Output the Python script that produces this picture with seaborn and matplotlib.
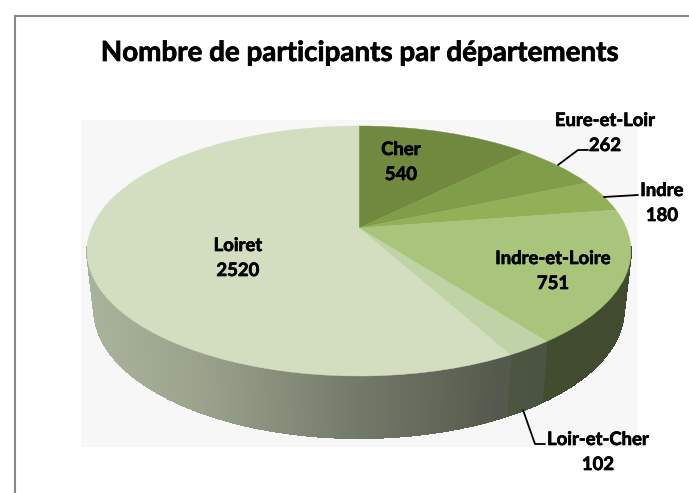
import numpy as np
import seaborn as sns
import matplotlib.pyplot as plt
import matplotlib.transforms as mtransforms
import matplotlib.patheffects as pe
from matplotlib.colors import to_rgb

# Nombre de participants par departement
departements = ['Cher', 'Eure-et-Loir', 'Indre', 'Indre-et-Loire', 'Loir-et-Cher', 'Loiret']
participants = [540, 262, 180, 751, 102, 2520]
couleurs = ['#71893f', '#809d4a', '#93b058', '#a9c47b', '#bfd3a6', '#d3dec0']
titre = 'Nombre de participants par départements'

# position des etiquettes (pixels)
etiquettes_x = [401, 605, 662, 553, 598, 238]
etiquettes_y = [162, 133, 203, 271, 452, 258]

sns.set_theme(style='white')
plt.rcParams['font.family'] = ['Lato', 'DejaVu Sans']

# geometrie de la perspective (pixels)
CX, CY = 359, 251     # centre de l'ellipse du dessus
RAYON = 267.3
RY = 125
APEX = 23             # le sommet du camembert est au-dessus du centre
K = APEX * 2 / (2 * RY)
# ellipse du dessous
CY_BAS, RX_BAS, RY_BAS = 309, 265, 129


def perspective(xy):
    u, v = xy[:, 0], xy[:, 1]
    d = 1 + K * v
    return np.column_stack([CX + RAYON * u / d, CY - (RY * v + APEX) / d])


class Perspective(mtransforms.Transform):
    input_dims = 2
    output_dims = 2
    is_separable = False
    has_inverse = False

    def transform_non_affine(self, values):
        return perspective(np.asarray(values, dtype=float))


def ombre(x):
    return np.interp(x, [90, 200, 345, 500, 630], [0.80, 0.73, 0.56, 0.40, 0.38])


fig = plt.figure(figsize=(6.89, 4.93), dpi=100)
fig.patch.set_facecolor('white')
ax = fig.add_axes([0, 0, 1, 1])

wedges, _ = ax.pie(participants, colors=sns.color_palette(couleurs), startangle=90,
                   counterclock=False, radius=1)
ax.set_aspect('auto')
ax.set_xlim(0, 689)
ax.set_ylim(493, 0)
ax.axis('off')

# fond de la zone de traçage
ax.fill([81, 637, 637, 81], [120, 120, 447, 447], color='#f7f7f7', lw=0, zorder=0)

# cote du camembert : bandes verticales assombries vers la droite
cumul = np.concatenate([[0], np.cumsum(participants)]) / sum(participants)
for i, couleur in enumerate(couleurs):
    debut, fin = np.radians(90 - cumul[i] * 360), np.radians(90 - cumul[i + 1] * 360)
    angles = np.linspace(debut, fin, max(3, int(abs(fin - debut) * 200)))
    haut = perspective(np.column_stack([np.cos(angles), np.sin(angles)]))
    bas = np.column_stack([CX + (haut[:, 0] - CX) * RX_BAS / 272,
                           CY_BAS + (haut[:, 1] - CY) * RY_BAS / RY])
    base = np.array(to_rgb(couleur))
    for j in range(len(angles) - 1):
        # la moitie arriere est cachee par le dessus
        if np.sin(angles[j]) > -0.15:
            continue
        c = base * ombre((haut[j, 0] + haut[j + 1, 0]) / 2)
        ax.fill([haut[j, 0], haut[j + 1, 0], bas[j + 1, 0], bas[j, 0]],
                [haut[j, 1], haut[j + 1, 1], bas[j + 1, 1], bas[j, 1]],
                color=c, lw=0.8, antialiased=False, zorder=1)

# dessus du camembert
persp = Perspective() + ax.transData
for w, couleur in zip(wedges, couleurs):
    w.set_transform(persp)
    w.set_edgecolor(couleur)
    w.set_linewidth(0.3)
    w.set_zorder(2)

# cadre du graphique (seuls les bords gauche et haut sont visibles)
ax.plot([15, 15, 689], [493, 16, 16], color='#868686', lw=1.5, zorder=1, solid_joinstyle='miter')

gras = [pe.withStroke(linewidth=0.5, foreground='black')]
ax.text(360, 53, titre, ha='center', va='center', fontsize=20, fontweight='bold', color='black',
        path_effects=gras)

# lignes de rappel
ax.plot([558, 578, 588], [165, 150, 150], color='black', lw=1.3, zorder=3)
ax.plot([604, 638], [197, 195], color='black', lw=1.3, zorder=3)
ax.plot([523, 535, 545], [410, 444, 444], color='black', lw=1.3, zorder=3)

for nom, val, x, y in zip(departements, participants, etiquettes_x, etiquettes_y):
    ax.text(x, y - 12.5, nom, ha='center', va='center', fontsize=13.3, fontweight='bold', color='black',
            zorder=4, path_effects=gras)
    ax.text(x, y + 12.5, str(val), ha='center', va='center', fontsize=13.3, fontweight='bold', color='black',
            zorder=4, path_effects=gras)

fig.savefig('out.png', dpi=100)
